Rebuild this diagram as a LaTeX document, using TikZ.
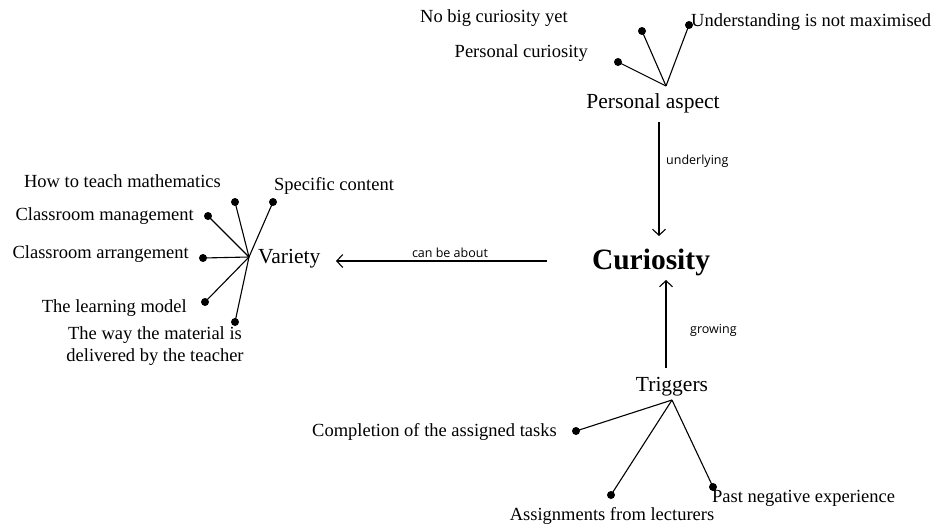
\documentclass[tikz,border=0pt]{standalone}
\usepackage{fontspec}
\setmainfont{Liberation Serif}
\newfontfamily\linkfont{Open Sans}
\usetikzlibrary{arrows.meta}
\begin{document}
\begin{tikzpicture}[x=1pt,y=-1pt,
  item/.style={font=\fontsize{18.5}{22}\selectfont, inner sep=0pt},
  topic/.style={font=\fontsize{21.5}{24}\selectfont, inner sep=0pt},
  core/.style={font=\fontsize{29.5}{32}\selectfont\bfseries, inner sep=0pt},
  linklabel/.style={font=\linkfont\fontsize{12.5}{14}\selectfont, inner sep=0pt},
  dot/.style={circle, fill=black, inner sep=0pt, minimum size=8pt},
  spoke/.style={line width=1.1pt},
  link/.style={line width=1.1pt, -{Straight Barb[length=6pt,width=13pt,line width=1.1pt]}}]
\useasboundingbox (0,0) rectangle (937,525);

% central concept
\node[core] (cur) at (651,262) {Curiosity};

% personal aspect branch
\node[topic] (pa) at (653,103) {Personal aspect};
\coordinate (paHub) at (666,86);
\node[dot] (pa1) at (618,62) {};
\node[dot] (pa2) at (642,31) {};
\node[dot] (pa3) at (689,25) {};
\node[item, anchor=east] (pa1t) at (588,53) {Personal curiosity};
\node[item, anchor=west] (pa2t) at (420,18) {No big curiosity yet};
\node[item, anchor=west] (pa3t) at (691,22) {Understanding is not maximised};
\foreach \d in {pa1,pa2,pa3} \draw[spoke] (paHub) -- (\d.center);

% variety branch
\node[topic, anchor=west] (var) at (258,259) {Variety};
\coordinate (varHub) at (249,257);
\node[dot] (v1) at (235,202) {};
\node[dot] (v2) at (273,202) {};
\node[dot] (v3) at (208,216) {};
\node[dot] (v4) at (203,258) {};
\node[dot] (v5) at (205,302) {};
\node[dot] (v6) at (235,322) {};
\node[item, anchor=east] (v1t) at (221,181) {How to teach mathematics};
\node[item, anchor=west] (v2t) at (274,186) {Specific content};
\node[item, anchor=east] (v3t) at (194,216) {Classroom management};
\node[item, anchor=east] (v4t) at (189,254) {Classroom arrangement};
\node[item, anchor=east] (v5t) at (187,308) {The learning model};
\node[item, align=center] (v6t) at (155,346) {The way the material is\\delivered by the teacher};
\foreach \d in {v1,v2,v3,v4,v5,v6} \draw[spoke] (varHub) -- (\d.center);

% triggers branch
\node[topic] (trg) at (672,387) {Triggers};
\coordinate (trgHub) at (672,400);
\node[dot] (t1) at (576,431) {};
\node[dot] (t2) at (611,495) {};
\node[dot] (t3) at (713,487) {};
\node[item, anchor=east] (t1t) at (557,432) {Completion of the assigned tasks};
\node[item] (t2t) at (612,516) {Assignments from lecturers};
\node[item, anchor=west] (t3t) at (712,498) {Past negative experience};
\foreach \d in {t1,t2,t3} \draw[spoke] (trgHub) -- (\d.center);

% ends of the linking arrows
\coordinate (aboutStart) at (547,261);
\coordinate (aboutEnd) at (336,261);
\coordinate (underStart) at (659,122);
\coordinate (underEnd) at (659,236);
\coordinate (growStart) at (666,368);
\coordinate (growEnd) at (666,280);

% links between concepts
\draw[link] (aboutStart) -- (aboutEnd);
\node[linklabel] (aboutLbl) at (450,253) {can be about};
\draw[link] (underStart) -- (underEnd);
\node[linklabel, anchor=west] (underLbl) at (666,161) {underlying};
\draw[link] (growStart) -- (growEnd);
\node[linklabel, anchor=west] (growLbl) at (690,330) {growing};
\end{tikzpicture}
\end{document}
